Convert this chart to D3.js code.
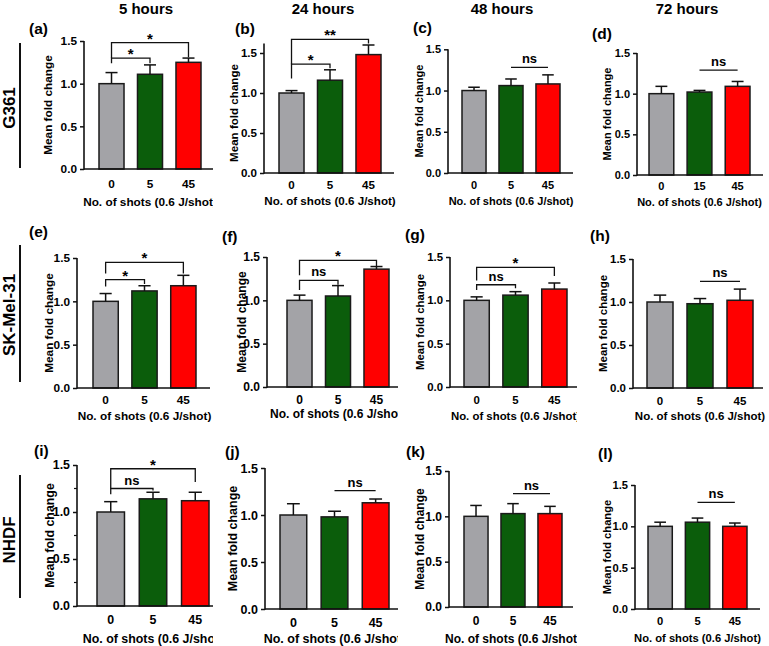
<!DOCTYPE html>
<html><head><meta charset="utf-8">
<script src="https://cdn.jsdelivr.net/npm/d3@7"></script>
<style>
body{margin:0;background:#fff}
svg{display:block}
text{font-family:"Liberation Sans",Arial,sans-serif;font-weight:bold;fill:#000}
</style>
</head><body>
<svg id="chart" width="769" height="646"></svg>
<script>
// ---------------- DATA ----------------
const colTitles = ["5 hours", "24 hours", "48 hours", "72 hours"];
const rowLabels = ["G361", "SK-Mel-31", "NHDF"];
const panelLetters = ["(a)","(b)","(c)","(d)","(e)","(f)","(g)","(h)","(i)","(j)","(k)","(l)"];
const shotCategories = ["0", "5", "45"];
const shotCategoriesD = ["0", "15", "45"];   // panel (d)
const xAxisLabel = "No. of shots (0.6 J/shot)";
const yAxisLabel = "Mean fold change";
const yTickValues = [0, 0.5, 1.0, 1.5];
const barColors = ["#a3a3a7", "#0b5d0b", "#ff0000"];

// means / error (upper) per row, columns = 5h, 24h, 48h, 72h
const meanG361   = [[1.00,1.11,1.25],[1.00,1.16,1.48],[1.00,1.06,1.08],[1.00,1.02,1.09]];
const errG361    = [[0.13,0.11,0.05],[0.03,0.13,0.12],[0.04,0.08,0.11],[0.09,0.02,0.06]];
const meanSKMel  = [[1.00,1.12,1.18],[1.00,1.05,1.36],[1.00,1.06,1.13],[1.00,0.98,1.02]];
const errSKMel   = [[0.09,0.06,0.12],[0.06,0.12,0.03],[0.04,0.04,0.07],[0.08,0.06,0.13]];
const meanNHDF   = [[1.00,1.14,1.12],[1.00,0.98,1.13],[1.00,1.03,1.03],[1.00,1.05,1.00]];
const errNHDF    = [[0.11,0.07,0.09],[0.12,0.06,0.04],[0.12,0.11,0.08],[0.05,0.05,0.04]];

// significance annotations
const sigPanel = [0,0,1,1,2,3,4,4,5,5,6,6,7,8,8,9,10,11];
const sigFrom  = [0,0,0,0,1,1,0,0,0,0,0,0,1,0,0,1,1,1];
const sigTo    = [1,2,1,2,2,2,1,2,1,2,1,2,2,1,2,2,2,2];
const sigLevel = [1.30,1.48,1.36,1.67,1.28,1.29,1.25,1.45,1.23,1.46,1.18,1.38,1.24,1.25,1.46,1.26,1.25,1.29];
const sigLeft  = [1.24,1.30,1.18,1.36,1.28,1.29,1.17,1.32,1.12,1.29,1.12,1.23,1.24,1.19,1.25,1.26,1.25,1.29];
const sigRight = [1.24,1.31,1.31,1.62,1.28,1.29,1.20,1.32,1.18,1.39,1.14,1.28,1.24,1.23,1.32,1.26,1.25,1.29];
const sigText  = ["*","*","*","**","ns","ns","*","*","ns","*","ns","*","ns","ns","*","ns","ns","ns"];

// ---------------- LAYOUT ----------------
const layout = [
  {ax:84, bx0:99, bx1:201, axEnd:215, y0:169, y15:41, yMax:1.5, fs:11.8, ylx:48, tOff:19, xlOff:37, lx:29, ly:34},
  {ax:264,bx0:279,bx1:381, axEnd:394, y0:173, y15:53, yMax:1.62,fs:11.6, ylx:234,tOff:16, xlOff:32, lx:235,ly:34},
  {ax:448,bx0:462,bx1:560, axEnd:573, y0:173, y15:49.3,yMax:1.5,fs:11,   ylx:419,tOff:16, xlOff:32, lx:413,ly:33},
  {ax:637,bx0:649,bx1:750, axEnd:763, y0:175, y15:53, yMax:1.5, fs:11,   ylx:607,tOff:15, xlOff:31, lx:592,ly:39},
  {ax:77, bx0:93, bx1:196, axEnd:210, y0:388, y15:258,yMax:1.5, fs:11.8, ylx:49, tOff:16, xlOff:32, lx:29, ly:237},
  {ax:267,bx0:287,bx1:389, axEnd:398, y0:387, y15:257,yMax:1.5, fs:12,   ylx:242,tOff:17, xlOff:31, lx:222,ly:242},
  {ax:450,bx0:464,bx1:567, axEnd:580, y0:387, y15:257,yMax:1.5, fs:11.4, ylx:420,tOff:17, xlOff:33, lx:405,ly:240},
  {ax:633,bx0:647,bx1:753, axEnd:763, y0:388, y15:259,yMax:1.5, fs:11.5, ylx:603,tOff:17, xlOff:32, lx:590,ly:241},
  {ax:77, bx0:97, bx1:209, axEnd:215, y0:606, y15:465,yMax:1.5, fs:12.4, ylx:50, tOff:18, xlOff:37, lx:34, ly:456, minor:true},
  {ax:265,bx0:280,bx1:389, axEnd:402, y0:609, y15:468,yMax:1.5, fs:12.5, ylx:233,tOff:18, xlOff:34, lx:225,ly:457},
  {ax:449,bx0:464,bx1:562, axEnd:573, y0:607, y15:471,yMax:1.5, fs:12,   ylx:420,tOff:18, xlOff:36, lx:406,ly:457},
  {ax:635,bx0:648,bx1:747, axEnd:760, y0:609, y15:485,yMax:1.5, fs:11.2, ylx:607,tOff:16, xlOff:33, lx:598,ly:459}
];
const colLeft = [0, 213, 398, 577, 769];
const rowTop = [0, 212, 428, 646];

const rowMeans = [meanG361, meanSKMel, meanNHDF];
const rowErrs  = [errG361, errSKMel, errNHDF];

const svg = d3.select("#chart");
svg.append("rect").attr("width", 769).attr("height", 646).attr("fill", "#fff");

layout.forEach((L, i) => {
  const r = Math.floor(i / 4), c = i % 4;
  const g = svg.append("g");
  g.append("rect").attr("x", colLeft[c]).attr("y", rowTop[r])
    .attr("width", colLeft[c + 1] - colLeft[c]).attr("height", rowTop[r + 1] - rowTop[r])
    .attr("fill", "#fff");

  const cats = (i === 3) ? shotCategoriesD : shotCategories;
  const means = rowMeans[r][c], errs = rowErrs[r][c];
  const x = d3.scaleBand().domain(cats).range([L.bx0, L.bx1]).paddingInner(0.35).paddingOuter(0);
  const y = d3.scaleLinear().domain([0, 1.5]).range([L.y0, L.y15]);
  const bw = x.bandwidth();
  const cx = k => x(cats[k]) + bw / 2;

  g.selectAll("rect.bar").data(cats).join("rect").attr("class", "bar")
    .attr("x", d => x(d)).attr("width", bw)
    .attr("y", (d, k) => y(means[k])).attr("height", (d, k) => y(0) - y(means[k]))
    .attr("fill", (d, k) => barColors[k]).attr("stroke", "#1a1a1a").attr("stroke-width", 1.5);

  cats.forEach((d, k) => {
    const top = y(means[k] + errs[k]);
    g.append("line").attr("x1", cx(k)).attr("x2", cx(k)).attr("y1", y(means[k])).attr("y2", top)
      .attr("stroke", "#111").attr("stroke-width", 1.5);
    g.append("line").attr("x1", cx(k) - bw * 0.24).attr("x2", cx(k) + bw * 0.24).attr("y1", top).attr("y2", top)
      .attr("stroke", "#111").attr("stroke-width", 1.5);
  });

  const yAx = g.append("g").attr("transform", `translate(${L.ax},0)`)
    .call(d3.axisLeft(y).tickValues(yTickValues).tickFormat(d3.format(".1f")).tickSize(4).tickPadding(3));
  yAx.select(".domain").remove();
  yAx.selectAll(".tick line").attr("stroke", "#111").attr("stroke-width", 1.5);
  yAx.selectAll(".tick text").attr("font-size", L.fs).attr("font-family", "Liberation Sans, Arial, sans-serif").attr("font-weight", "bold").attr("fill", "#000");
  if (L.minor) {
    [0.25, 0.75, 1.25].forEach(v => {
      g.append("line").attr("x1", L.ax - 3).attr("x2", L.ax).attr("y1", y(v)).attr("y2", y(v))
        .attr("stroke", "#111").attr("stroke-width", 1.2);
    });
  }
  g.append("line").attr("x1", L.ax).attr("x2", L.ax).attr("y1", y(0) + 0.75).attr("y2", y(L.yMax))
    .attr("stroke", "#111").attr("stroke-width", 1.6);
  g.append("line").attr("x1", L.ax).attr("x2", L.axEnd).attr("y1", y(0)).attr("y2", y(0))
    .attr("stroke", "#111").attr("stroke-width", 1.6);
  g.selectAll("text.xt").data(cats).join("text").attr("class", "xt")
    .attr("x", d => x(d) + bw / 2).attr("y", L.y0 + L.tOff).attr("text-anchor", "middle")
    .attr("font-size", L.fs).text(d => d);

  g.append("text").attr("x", (L.bx0 + L.bx1) / 2).attr("y", L.y0 + L.xlOff)
    .attr("text-anchor", "middle").attr("font-size", L.fs).text(xAxisLabel);
  g.append("text").attr("transform", `translate(${L.ylx},${(y(0) + y(1.5)) / 2}) rotate(-90)`)
    .attr("dy", "0.35em").attr("text-anchor", "middle").attr("font-size", L.fs).text(yAxisLabel);

  g.append("text").attr("x", L.lx).attr("y", L.ly).attr("font-size", 15.5).text(panelLetters[i]);

  sigPanel.forEach((p, s) => {
    if (p !== i) return;
    const xl = cx(sigFrom[s]), xr = cx(sigTo[s]);
    g.append("path")
      .attr("d", `M${xl},${y(sigLeft[s])}V${y(sigLevel[s])}H${xr}V${y(sigRight[s])}`)
      .attr("fill", "none").attr("stroke", "#111").attr("stroke-width", 1.3);
    const isStar = sigText[s].indexOf("*") >= 0;
    g.append("text").attr("x", (xl + xr) / 2).attr("y", y(sigLevel[s]) + (isStar ? 1 : -4))
      .attr("text-anchor", "middle").attr("font-size", isStar ? 15 : 13).text(sigText[s]);
  });
});

const titleX = [146, 323, 502, 687];
colTitles.forEach((t, c) => {
  svg.append("text").attr("x", titleX[c]).attr("y", 14).attr("text-anchor", "middle")
    .attr("font-size", 15).text(t);
});

const rowMid = [108, 315, 540];
const rowLine = [[43, 168], [245, 382], [475, 598]];
rowLabels.forEach((t, r) => {
  svg.append("text").attr("transform", `translate(9,${rowMid[r]}) rotate(-90)`)
    .attr("dy", "0.36em").attr("text-anchor", "middle").attr("font-size", 17).text(t);
  svg.append("line").attr("x1", 20).attr("x2", 20).attr("y1", rowLine[r][0]).attr("y2", rowLine[r][1])
    .attr("stroke", "#111").attr("stroke-width", 2);
});
</script>
</body></html>
